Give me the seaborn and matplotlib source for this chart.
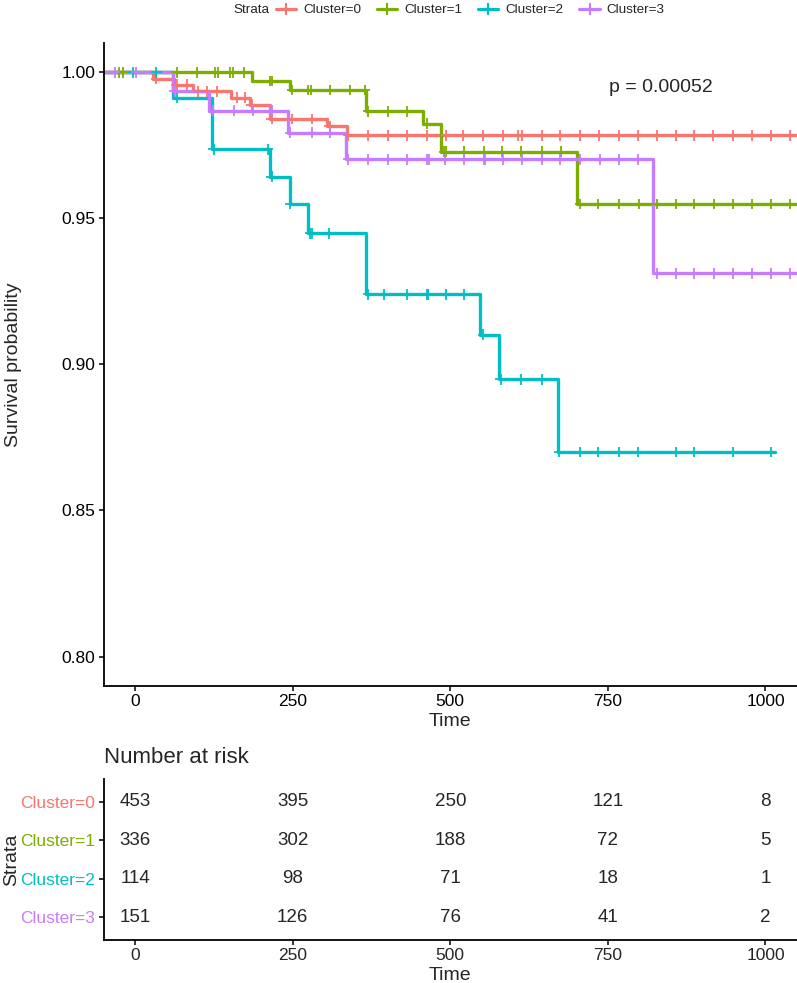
import matplotlib.pyplot as plt
import numpy as np
import pandas as pd
import seaborn as sns
from matplotlib.lines import Line2D

# strata and colours (ggplot default hues)
strata = ["Cluster=0", "Cluster=1", "Cluster=2", "Cluster=3"]
colors = ["#F8766D", "#7CAE00", "#00BFC4", "#C77CFF"]

# Kaplan-Meier steps
t_start = -50
c0_time = [29, 61, 92, 152, 182, 214, 305, 336]
c0_surv = [0.9978, 0.9957, 0.9935, 0.9913, 0.9889, 0.9840, 0.9815, 0.9784]
c0_end = 1050
c0_cens = [34, 66, 82, 100, 114, 130, 161, 175, 185, 217, 249, 280, 309, 338, 370,
           402, 431, 463, 494, 520, 552, 584, 608, 614, 646, 674, 706, 736, 767, 797,
           828, 858, 887, 917, 949, 979, 1009, 1039]

c1_time = [185, 245, 366, 457, 486, 701]
c1_surv = [0.9970, 0.9939, 0.9866, 0.9824, 0.9728, 0.9549]
c1_end = 1050
c1_cens = [-26, -19, 66, 98, 127, 131, 151, 156, 173, 214, 217, 249, 275, 279, 309,
           341, 364, 370, 402, 432, 463, 490, 494, 521, 553, 582, 612, 645, 675, 706,
           735, 767, 799, 828, 858, 886, 918, 948, 978, 1008, 1039]

c2_time = [60, 122, 214, 245, 275, 366, 547, 578, 671]
c2_surv = [0.9912, 0.9736, 0.9642, 0.9549, 0.9448, 0.9240, 0.9102, 0.8949, 0.8700]
c2_end = 1015
c2_cens = [-3, 34, 67, 125, 211, 217, 246, 278, 280, 308, 370, 395, 431, 463, 465,
           494, 521, 552, 580, 612, 645, 673, 705, 735, 767, 797, 858, 886, 948, 1008]

c3_time = [60, 118, 243, 334, 822]
c3_surv = [0.9934, 0.9868, 0.9793, 0.9702, 0.9311]
c3_end = 1050
c3_cens = [-32, 2, 63, 124, 157, 187, 214, 217, 246, 280, 309, 338, 370, 402, 431,
           463, 467, 492, 521, 553, 555, 583, 613, 645, 674, 705, 737, 767, 797, 828,
           858, 886, 918, 948, 978, 1008, 1039]

p_text = "p = 0.00052"

# number at risk table
risk_times = [0, 250, 500, 750, 1000]
risk_c0 = [453, 395, 250, 121, 8]
risk_c1 = [336, 302, 188, 72, 5]
risk_c2 = [114, 98, 71, 18, 1]
risk_c3 = [151, 126, 76, 41, 2]

y_ticks = [0.80, 0.85, 0.90, 0.95, 1.00]

curve_parts = []
cens_parts = []
for name, times, surv, end, cens in zip(
    strata,
    [c0_time, c1_time, c2_time, c3_time],
    [c0_surv, c1_surv, c2_surv, c3_surv],
    [c0_end, c1_end, c2_end, c3_end],
    [c0_cens, c1_cens, c2_cens, c3_cens],
):
    t = [t_start] + times + [end]
    s = [1.0] + surv + [surv[-1]]
    curve_parts.append(pd.DataFrame({"time": t, "surv": s, "strata": name}))
    idx = np.searchsorted(t, cens, side="right") - 1
    cens_parts.append(pd.DataFrame({"time": cens, "surv": np.array(s)[idx], "strata": name}))
curves = pd.concat(curve_parts, ignore_index=True)
censored = pd.concat(cens_parts, ignore_index=True)

sns.set_theme(style="ticks")
plt.rcParams["font.family"] = ["Liberation Sans", "DejaVu Sans"]
plt.rcParams["axes.linewidth"] = 1.3
plt.rcParams["axes.edgecolor"] = "black"

fig = plt.figure(figsize=(7.97, 9.83), dpi=100)

# survival curves
ax = fig.add_axes([0.1299, 0.3024, 0.8701, 0.6539])
sns.lineplot(data=curves, x="time", y="surv", hue="strata", palette=colors,
             estimator=None, sort=False, drawstyle="steps-post", linewidth=2.4,
             legend=False, ax=ax)
sns.scatterplot(data=censored, x="time", y="surv", hue="strata", palette=colors,
                marker="+", s=60, linewidth=1.3, legend=False, ax=ax, zorder=3)
ax.set_xlim(-50, 1050)
ax.set_ylim(0.79, 1.01)
ax.set_xticks(risk_times)
ax.set_yticks(y_ticks)
ax.set_yticklabels([f"{v:.2f}" for v in y_ticks])
ax.tick_params(axis="both", labelsize=12.5, length=3.5, width=1.1, color="black",
               labelcolor="black", pad=2.5)
ax.set_xlabel("Time", fontsize=14)
ax.set_ylabel("Survival probability", fontsize=14)
ax.xaxis.set_label_coords(0.5, -0.042)
ax.yaxis.set_label_coords(-0.117, 0.5)
ax.text(834, 0.9949, p_text, ha="center", va="center", fontsize=14)
sns.despine(ax=ax)

# legend across the top
fig.text(251 / 797, 1 - 10 / 983, "Strata", ha="center", va="center", fontsize=9.7)
handles = [Line2D([0], [0], color=c, lw=2.3, marker="+", markersize=9,
                  markeredgewidth=1.5) for c in colors]
fig.legend(handles, strata, loc="center left", bbox_to_anchor=(276 / 797, 1 - 10 / 983),
           ncol=4, frameon=False, fontsize=9.7, handlelength=1.5, handletextpad=0.5,
           columnspacing=1.2, borderpad=0, borderaxespad=0)

# number at risk table
axt = fig.add_axes([0.1299, 0.04374, 0.8701, 0.1638])
risk = [risk_c0, risk_c1, risk_c2, risk_c3]
for i, row in enumerate(risk):
    for t, n in zip(risk_times, row):
        axt.text(t, i, str(n), ha="center", va="center", fontsize=13.5)
axt.set_xlim(-50, 1050)
axt.set_ylim(3.6, -0.6)
axt.set_xticks(risk_times)
axt.set_yticks(range(len(strata)))
axt.set_yticklabels(strata)
for lbl, c in zip(axt.get_yticklabels(), colors):
    lbl.set_color(c)
axt.tick_params(axis="both", labelsize=12.5, length=3.5, width=1.1, color="black", pad=2.5)
axt.set_xlabel("Time", fontsize=14)
axt.set_ylabel("Strata", fontsize=14)
axt.xaxis.set_label_coords(0.5, -0.17)
axt.yaxis.set_label_coords(-0.12, 0.5)
axt.text(0, 1 + 21 / 161, "Number at risk", transform=axt.transAxes,
         ha="left", va="center", fontsize=16)
sns.despine(ax=axt)

fig.savefig("out.png", dpi=100)
